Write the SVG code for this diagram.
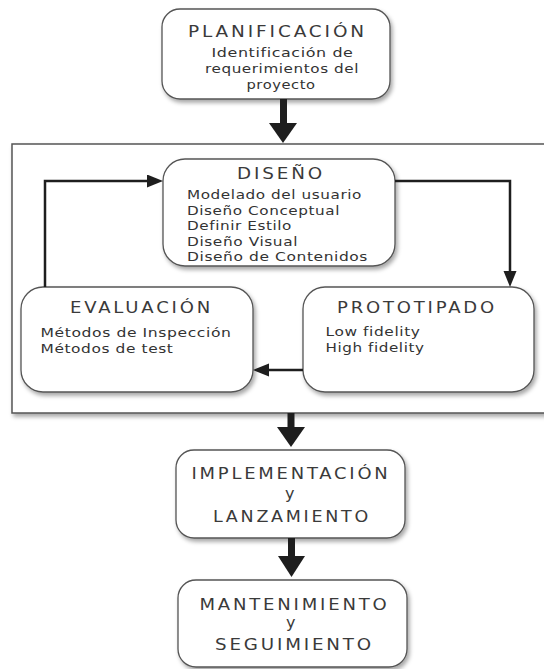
<svg xmlns="http://www.w3.org/2000/svg" width="544" height="669" viewBox="0 0 544 669">
  <defs>
    <filter id="sh" x="-10%" y="-10%" width="125%" height="130%">
      <feDropShadow dx="2" dy="3" stdDeviation="2" flood-color="#000" flood-opacity="0.35"/>
    </filter>
    <marker id="ah" markerUnits="userSpaceOnUse" markerWidth="17" markerHeight="14" refX="6" refY="6.5" orient="auto">
      <path d="M0,0 L16,6.5 L0,13 Z" fill="#1e1e1e"/>
    </marker>
    <style>
      .box { fill: #fff; stroke: #555; stroke-width: 1.3; filter: url(#sh); }
      .frame { fill: #fff; stroke: #555; stroke-width: 1.5; filter: url(#sh); }
      .t { font-family: "DejaVu Sans", Verdana, sans-serif; fill: #333; }
      .ti { font-size: 16px; letter-spacing: 2.5px; fill: #3a3a3a; }
      .tx { font-size: 13px; letter-spacing: 0.5px; }
      .ln { fill: none; stroke: #1e1e1e; stroke-width: 2.5; }
      .big { fill: #1e1e1e; }
    </style>
  </defs>

  <rect class="frame" x="12" y="144" width="545" height="269"/>

  <g id="planificacion">
    <rect class="box" x="162" y="9" width="228" height="90" rx="18"/>
    <text class="t ti" x="188" y="37" textLength="179" lengthAdjust="spacingAndGlyphs">PLANIFICACIÓN</text>
    <text class="t tx" x="211.5" y="56.5" textLength="142" lengthAdjust="spacingAndGlyphs">Identificación de</text>
    <text class="t tx" x="205" y="72.5" textLength="154" lengthAdjust="spacingAndGlyphs">requerimientos del</text>
    <text class="t tx" x="246.5" y="88.5" textLength="69" lengthAdjust="spacingAndGlyphs">proyecto</text>
  </g>

  <g id="diseno">
    <rect class="box" x="163" y="159" width="232" height="107" rx="22"/>
    <text class="t ti" x="237" y="179" textLength="88" lengthAdjust="spacingAndGlyphs">DISEÑO</text>
    <text class="t tx" x="187" y="199" textLength="175" lengthAdjust="spacingAndGlyphs">Modelado del usuario</text>
    <text class="t tx" x="187" y="214.5" textLength="153" lengthAdjust="spacingAndGlyphs">Diseño Conceptual</text>
    <text class="t tx" x="187" y="230" textLength="105" lengthAdjust="spacingAndGlyphs">Definir Estilo</text>
    <text class="t tx" x="187" y="245.5" textLength="111" lengthAdjust="spacingAndGlyphs">Diseño Visual</text>
    <text class="t tx" x="187" y="261" textLength="181" lengthAdjust="spacingAndGlyphs">Diseño de Contenidos</text>
  </g>

  <g id="evaluacion">
    <rect class="box" x="21" y="287" width="232" height="105" rx="22"/>
    <text class="t ti" x="70" y="312.5" textLength="143" lengthAdjust="spacingAndGlyphs">EVALUACIÓN</text>
    <text class="t tx" x="40.5" y="337" textLength="191" lengthAdjust="spacingAndGlyphs">Métodos de Inspección</text>
    <text class="t tx" x="40.5" y="352.5" textLength="133" lengthAdjust="spacingAndGlyphs">Métodos de test</text>
  </g>

  <g id="prototipado">
    <rect class="box" x="303" y="287" width="231" height="105" rx="22"/>
    <text class="t ti" x="337" y="312.5" textLength="160" lengthAdjust="spacingAndGlyphs">PROTOTIPADO</text>
    <text class="t tx" x="325.5" y="336" textLength="95" lengthAdjust="spacingAndGlyphs">Low fidelity</text>
    <text class="t tx" x="325.5" y="351.5" textLength="99" lengthAdjust="spacingAndGlyphs">High fidelity</text>
  </g>

  <g id="implementacion">
    <rect class="box" x="176" y="450" width="229" height="88" rx="18"/>
    <text class="t ti" x="191.5" y="479" textLength="199" lengthAdjust="spacingAndGlyphs">IMPLEMENTACIÓN</text>
    <text class="t ti" x="291" y="499" text-anchor="middle" letter-spacing="0">y</text>
    <text class="t ti" x="213" y="521.5" textLength="158" lengthAdjust="spacingAndGlyphs">LANZAMIENTO</text>
  </g>

  <g id="mantenimiento">
    <rect class="box" x="178" y="580" width="229" height="87" rx="18"/>
    <text class="t ti" x="199.5" y="609.5" textLength="190" lengthAdjust="spacingAndGlyphs">MANTENIMIENTO</text>
    <text class="t ti" x="292" y="627.5" text-anchor="middle" letter-spacing="0">y</text>
    <text class="t ti" x="215" y="650" textLength="159" lengthAdjust="spacingAndGlyphs">SEGUIMIENTO</text>
  </g>

  <g id="connectors">
    <rect class="big" x="280" y="99" width="7" height="25"/>
    <polygon class="big" points="269,123 297,123 283,143"/>
    <rect class="big" x="287.5" y="413" width="7" height="15"/>
    <polygon class="big" points="277,427 305,427 291,447"/>
    <rect class="big" x="288" y="538" width="7" height="19"/>
    <polygon class="big" points="278,556 305,556 291.5,577"/>
    <path class="ln" d="M45,287 V181 H153" marker-end="url(#ah)"/>
    <path class="ln" d="M395,181 H510 V277" marker-end="url(#ah)"/>
    <path class="ln" d="M303,370 H263" marker-end="url(#ah)"/>
  </g>
</svg>
